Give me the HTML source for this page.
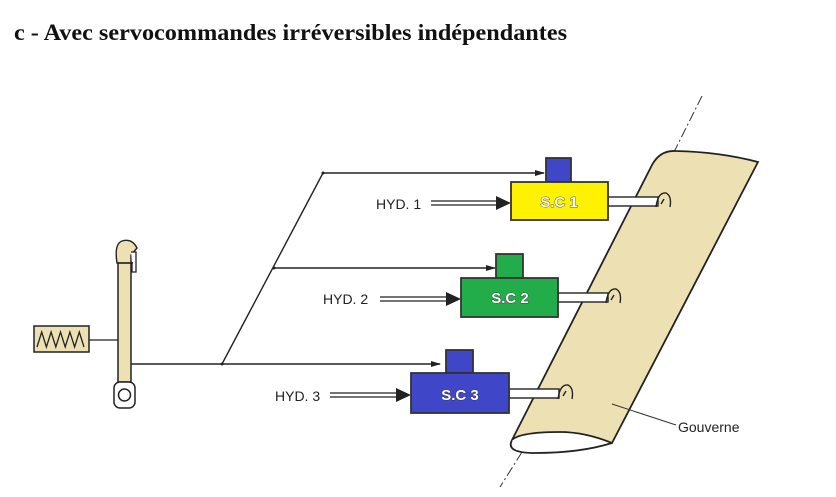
<!DOCTYPE html>
<html><head><meta charset="utf-8"><style>
html,body{margin:0;padding:0;background:#fff;width:836px;height:497px;overflow:hidden}
svg{display:block}
.t{font-family:"Liberation Sans",sans-serif;font-size:14px;fill:#222}
.sc{font-family:"Liberation Sans",sans-serif;font-size:15px;font-weight:bold;fill:#fff;stroke:#333;stroke-width:0.8;paint-order:stroke}
</style></head><body>
<svg width="836" height="497" viewBox="0 0 836 497" xmlns="http://www.w3.org/2000/svg">
<defs>
<marker id="a" markerWidth="10" markerHeight="8" refX="9" refY="4" orient="auto" markerUnits="userSpaceOnUse"><path d="M0,1 L10,4 L0,7z" fill="#222"/></marker>
</defs>
<text x="14" y="40" font-family="Liberation Serif,serif" font-weight="bold" font-size="23" textLength="553" lengthAdjust="spacingAndGlyphs" fill="#111">c - Avec servocommandes irréversibles indépendantes</text>

<!-- axis dashed -->
<line x1="702" y1="96" x2="674" y2="152" stroke="#333" stroke-width="1" stroke-dasharray="10,3,2,3"/>
<line x1="522" y1="452" x2="500" y2="487" stroke="#333" stroke-width="1" stroke-dasharray="10,3,2,3"/>

<!-- rudder -->
<path d="M652,165 Q660,150 676,151 Q720,152 758,162 L612,443 Q585,432 560,432 Q520,432 512,440 Z" fill="#ede1b3" stroke="#222" stroke-width="1.8"/>
<path d="M512,440 Q505,453 535,453 Q580,453 612,443" fill="#fff" stroke="#222" stroke-width="1.8"/>
<line x1="612" y1="404" x2="676" y2="425" stroke="#333" stroke-width="1"/>
<text x="678" y="432" class="t" font-size="13">Gouverne</text>

<!-- lever -->
<path d="M34,326 h55 v26 h-55z" fill="#ede1b3" stroke="#222" stroke-width="1.5"/>
<path d="M37,347 l4.7,-15 l4.7,15 l4.7,-15 l4.7,15 l4.7,-15 l4.7,15 l4.7,-15 l4.7,15 l4.7,-15 l4.7,15" fill="none" stroke="#222" stroke-width="1.3"/>
<line x1="89" y1="340" x2="118" y2="340" stroke="#222" stroke-width="1.2"/>
<rect x="118" y="262" width="13" height="120" fill="#ede1b3" stroke="#222" stroke-width="1.5"/>
<path d="M117,263 Q114,244 122,241 Q132,238 137,248 L131,255 L131,263 Z" fill="#ede1b3" stroke="#222" stroke-width="1.4"/>
<path d="M131,252 L136,252 L136,272 L132,272 L132,262" fill="#fff" stroke="#222" stroke-width="1.3"/>
<line x1="118" y1="263" x2="133" y2="263" stroke="#222" stroke-width="1.3"/>
<rect x="114" y="382" width="21" height="26" rx="6" fill="#fff" stroke="#222" stroke-width="1.5"/>
<circle cx="124.5" cy="395" r="6" fill="#fff" stroke="#222" stroke-width="1.5"/>

<!-- signal lines -->
<g stroke="#222" stroke-width="1.4" fill="none">
<path d="M131,364 H440" marker-end="url(#a)"/>
<path d="M222,364 L323,173 H544" marker-end="url(#a)"/>
<path d="M274,268 H495" marker-end="url(#a)"/>
</g>
<circle cx="323" cy="173" r="1.5" fill="#222"/><circle cx="274" cy="268" r="1.5" fill="#222"/><circle cx="222" cy="364" r="1.5" fill="#222"/>

<!-- hyd arrows -->
<g stroke="#222" stroke-width="1.2" fill="none">
<path d="M431,201 H500 M431,205 H500"/>
<path d="M380,297 H450 M380,301 H450"/>
<path d="M330,393 H400 M330,397 H400"/>
</g>
<path d="M496,196 L511,203 L496,210z" fill="#222"/>
<path d="M446,292 L461,299 L446,306z" fill="#222"/>
<path d="M396,388 L411,395 L396,402z" fill="#222"/>
<text x="376" y="209" class="t">HYD. 1</text>
<text x="323" y="304" class="t">HYD. 2</text>
<text x="275" y="401" class="t">HYD. 3</text>

<!-- rods -->
<g stroke="#222" stroke-width="1.4" fill="#fff">
<rect x="608" y="197" width="50" height="9"/>
<rect x="558" y="293" width="50" height="9"/>
<rect x="509" y="389" width="50" height="9"/>
</g>
<g stroke="#222" stroke-width="1.4" fill="none">
<path d="M656,207 Q658,192 666,193 Q672,196 670,207 M661,204 l3,-5"/>
<path d="M606,303 Q608,288 616,289 Q622,292 620,303 M611,300 l3,-5"/>
<path d="M558,399 Q560,384 568,385 Q574,388 572,399 M563,396 l3,-5"/>
</g>

<!-- boxes -->
<g stroke="#333" stroke-width="1.8">
<rect x="546" y="158" width="25" height="24" fill="#3f46c8"/>
<rect x="511" y="182" width="97" height="38" fill="#fff200"/>
<rect x="496" y="254" width="27" height="24" fill="#23ad4a"/>
<rect x="461" y="278" width="97" height="39" fill="#23ad4a"/>
<rect x="446" y="350" width="27" height="23" fill="#3f46c8"/>
<rect x="411" y="373" width="98" height="40" fill="#3f46c8"/>
</g>
<text x="559" y="207" class="sc" text-anchor="middle">S.C 1</text>
<text x="510" y="303" class="sc" text-anchor="middle">S.C 2</text>
<text x="460" y="400" class="sc" text-anchor="middle">S.C 3</text>
</svg>
</body></html>
